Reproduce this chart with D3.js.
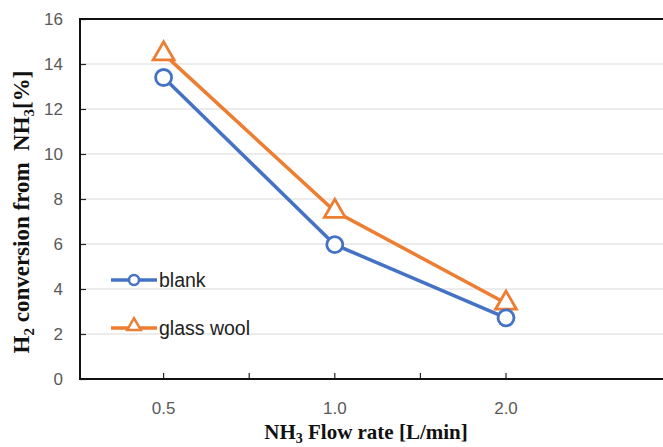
<!DOCTYPE html>
<html>
<head>
<meta charset="utf-8">
<script src="https://cdn.jsdelivr.net/npm/d3@7"></script>
<style>
  body { margin: 0; background: #fff; overflow: hidden; }
  .tick-label { font-family: "Liberation Sans", Arial, sans-serif; font-size: 17px; fill: #595959; }
  .title { font-family: "Liberation Serif", "Times New Roman", serif; font-weight: bold; fill: #111; }
  .legend { font-family: "Liberation Sans", Arial, sans-serif; font-size: 19.5px; fill: #222; }
</style>
</head>
<body>
<svg id="chart"></svg>
<script>
// data
let categories = ['0.5', '1.0', '2.0', ''];
let blank = [13.4, 5.97, 2.72];
let glassWool = [14.45, 7.45, 3.37];
let yTicks = [0, 2, 4, 6, 8, 10, 12, 14, 16];

let width = 663;
let height = 447;
let margin = {left: 80, top: 19, right: 0, bottom: 68};
let bottomY = height - margin.bottom; // 379

let svg = d3.select('#chart').attr('width', width).attr('height', height);

// scales - 4th category is cropped off the right side, like the source
let xScale = d3.scaleBand()
    .domain(categories)
    .range([78, 78 + 4 * 171.2]);
let cx = d => xScale(d) + xScale.bandwidth() / 2;

let yScale = d3.scaleLinear()
    .domain([0, 16])
    .range([bottomY, margin.top]);

// grid lines
svg.append('g')
    .selectAll('line')
    .data(yTicks.slice(1, -1))
    .enter()
    .append('line')
    .attr('x1', margin.left)
    .attr('x2', width)
    .attr('y1', d => yScale(d))
    .attr('y2', d => yScale(d))
    .attr('stroke', '#d9d9d9')
    .attr('stroke-width', 1.2);

// y axis
let yAxis = d3.axisLeft(yScale).tickValues(yTicks).tickSize(-6);
let gY = svg.append('g')
    .attr('transform', 'translate(' + margin.left + ',0)')
    .call(yAxis);
gY.select('.domain').remove();
gY.selectAll('.tick line').attr('stroke', '#222').attr('stroke-width', 1.2);
gY.selectAll('.tick text').attr('class', 'tick-label').attr('x', -17);

// x axis (ticks at categories and between them)
let xAxis = d3.axisBottom(xScale).tickSize(0).tickPadding(23);
let gX = svg.append('g')
    .attr('transform', 'translate(0,' + bottomY + ')')
    .call(xAxis);
gX.select('.domain').remove();
gX.selectAll('.tick text').attr('class', 'tick-label');

let xTickPos = [];
categories.slice(0, 3).forEach((c, i) => {
    xTickPos.push(cx(c));
    if (i > 0) xTickPos.push(xScale(c));
});
svg.append('g')
    .selectAll('line')
    .data(xTickPos)
    .enter()
    .append('line')
    .attr('x1', d => d)
    .attr('x2', d => d)
    .attr('y1', bottomY)
    .attr('y2', bottomY - 6)
    .attr('stroke', '#222')
    .attr('stroke-width', 1.2);

// plot frame
svg.append('rect')
    .attr('x', margin.left)
    .attr('y', margin.top)
    .attr('width', 700)
    .attr('height', bottomY - margin.top)
    .attr('fill', 'none')
    .attr('stroke', '#111')
    .attr('stroke-width', 2);

// series
let blue = '#4472c4';
let orange = '#ed7d31';
let line = d3.line()
    .x((d, i) => cx(categories[i]))
    .y(d => yScale(d));

svg.append('path')
    .datum(blank)
    .attr('d', line)
    .attr('fill', 'none')
    .attr('stroke', blue)
    .attr('stroke-width', 3.5);

svg.append('path')
    .datum(glassWool)
    .attr('d', line)
    .attr('fill', 'none')
    .attr('stroke', orange)
    .attr('stroke-width', 3.5);

let triangle = d3.symbol().type(d3.symbolTriangle).size(190);

svg.append('g')
    .selectAll('path')
    .data(glassWool)
    .enter()
    .append('path')
    .attr('d', triangle)
    .attr('transform', (d, i) => 'translate(' + cx(categories[i]) + ',' + yScale(d) + ')')
    .attr('fill', '#fff')
    .attr('stroke', orange)
    .attr('stroke-width', 2.8);

svg.append('g')
    .selectAll('circle')
    .data(blank)
    .enter()
    .append('circle')
    .attr('cx', (d, i) => cx(categories[i]))
    .attr('cy', d => yScale(d))
    .attr('r', 8)
    .attr('fill', '#fff')
    .attr('stroke', blue)
    .attr('stroke-width', 2.8);

// legend
let legendItems = [
    {name: 'blank', color: blue, marker: 'circle', y: 280},
    {name: 'glass wool', color: orange, marker: 'triangle', y: 328}
];
legendItems.forEach(item => {
    let g = svg.append('g');
    g.append('line')
        .attr('x1', 111).attr('x2', 157)
        .attr('y1', item.y).attr('y2', item.y)
        .attr('stroke', item.color)
        .attr('stroke-width', 3.5);
    if (item.marker === 'circle') {
        g.append('circle')
            .attr('cx', 134).attr('cy', item.y).attr('r', 5)
            .attr('fill', '#fff').attr('stroke', item.color).attr('stroke-width', 2.5);
    } else {
        g.append('path')
            .attr('d', d3.symbol().type(d3.symbolTriangle).size(80))
            .attr('transform', 'translate(134,' + (item.y - 2) + ')')
            .attr('fill', '#fff').attr('stroke', item.color).attr('stroke-width', 2.5);
    }
    g.append('text')
        .attr('class', 'legend')
        .attr('x', 159)
        .attr('y', item.y + 7)
        .text(item.name);
});

// axis titles
let xt = svg.append('text')
    .attr('class', 'title')
    .attr('font-size', '21px')
    .attr('x', 366)
    .attr('y', 439)
    .attr('text-anchor', 'middle');
xt.append('tspan').text('NH');
xt.append('tspan').text('3').attr('font-size', '14px').attr('dy', 4);
xt.append('tspan').text(' Flow rate [L/min]').attr('dy', -4);

let yt = svg.append('text')
    .attr('class', 'title')
    .attr('font-size', '23px')
    .attr('transform', 'translate(29,' + 212 + ') rotate(-90)')
    .attr('text-anchor', 'middle');
yt.append('tspan').text('H');
yt.append('tspan').text('2').attr('font-size', '15px').attr('dy', 5);
yt.append('tspan').text(' conversion from\u00a0 NH').attr('dy', -5);
yt.append('tspan').text('3').attr('font-size', '15px').attr('dy', 5);
yt.append('tspan').text('[%]').attr('dy', -5);
</script>
</body>
</html>
